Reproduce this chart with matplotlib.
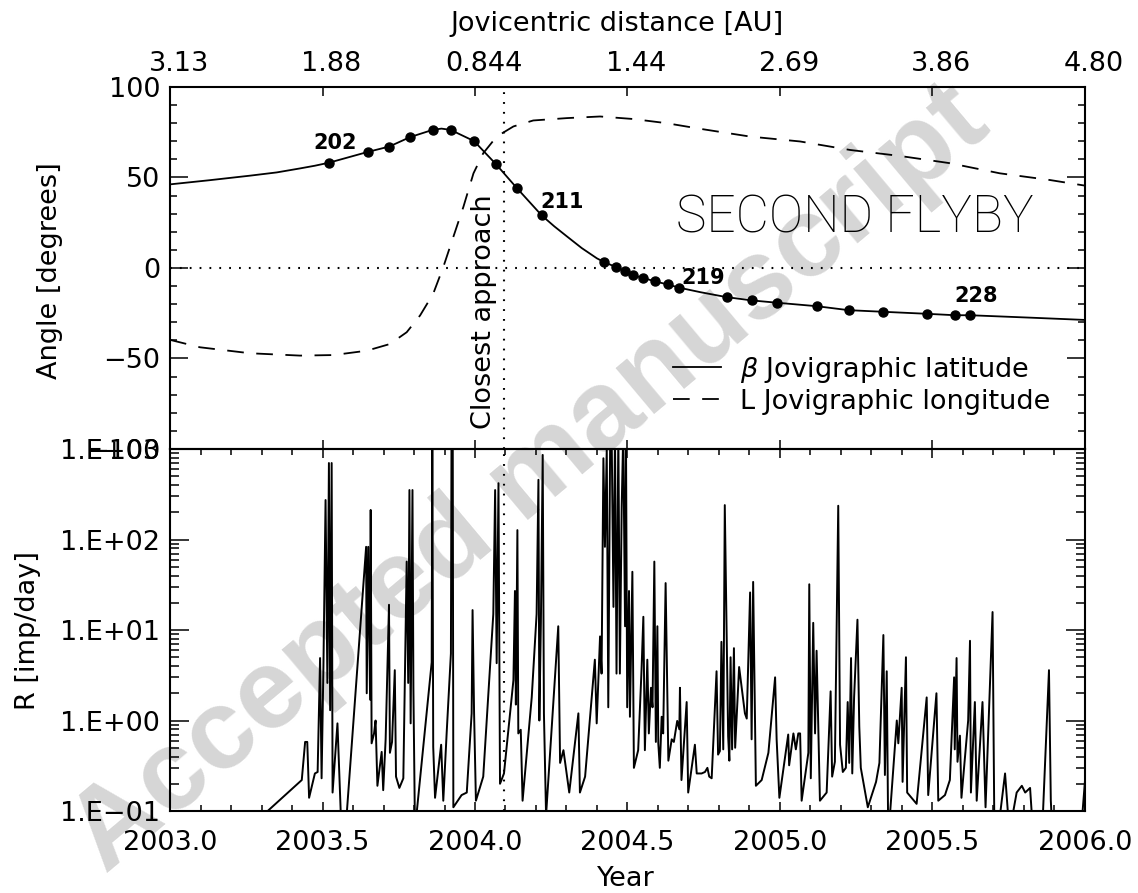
import matplotlib
matplotlib.use('Agg')
import matplotlib.pyplot as plt
import matplotlib.ticker as ticker
import matplotlib.transforms as mtransforms
from matplotlib.lines import Line2D

plt.rcParams['font.family'] = 'DejaVu Sans'
plt.rcParams['mathtext.fontset'] = 'dejavusans'
plt.rcParams['lines.scale_dashes'] = False

# orbit markers on the latitude curve (orbits 202..228)
orbit_year = [2003.522, 2003.648, 2003.719, 2003.787, 2003.861, 2003.920, 2003.997,
              2004.069, 2004.137, 2004.219, 2004.423, 2004.461, 2004.492, 2004.519,
              2004.550, 2004.590, 2004.632, 2004.670, 2004.825, 2004.907, 2004.991,
              2005.120, 2005.225, 2005.339, 2005.481, 2005.574, 2005.623]
orbit_lat = [58.2, 64.1, 67.1, 72.3, 76.3, 76.3, 70.1,
             57.3, 44.2, 29.0, 3.3, 0.6, -1.8, -4.1,
             -5.4, -7.4, -9.1, -10.9, -16.1, -17.9, -19.2,
             -21.1, -23.3, -24.2, -25.3, -26.1, -26.1]
orbit_labels = {'202': 0, '211': 9, '219': 17, '228': 26}
label_offset = {'202': (4, 14.5), '211': (14.5, 9.5), '219': (17, 7), '228': (4.5, 14)}

# extra points of the latitude curve between markers
lat_curve_year = [2003.000, 2003.130, 2003.262, 2003.350, 2003.426, 2003.475, 2003.890,
                  2004.260, 2004.301, 2004.350, 2004.400, 2004.740, 2005.830, 2006.000]
lat_curve_deg = [46.2, 48.5, 51.0, 52.8, 55.0, 56.5, 77.0,
                 23.0, 17.5, 11.0, 5.3, -13.4, -27.5, -28.7]

# longitude (dashed)
lon_year = [2003.000, 2003.098, 2003.262, 2003.426, 2003.536, 2003.645, 2003.721,
            2003.776, 2003.820, 2003.863, 2003.896, 2003.929, 2003.962, 2003.995,
            2004.027, 2004.071, 2004.126, 2004.191, 2004.301, 2004.410, 2004.519,
            2004.628, 2004.738, 2004.902, 2005.066, 2005.230, 2005.393, 2005.557,
            2005.721, 2005.885, 2006.000]
lon_deg = [-39.7, -43.8, -47.1, -48.4, -48.1, -45.7, -42.0,
           -35.5, -26.2, -14.2, 0.5, 17.2, 33.8, 52.3,
           63.4, 72.6, 78.2, 81.5, 82.8, 83.7, 82.3,
           80.0, 76.9, 72.6, 69.9, 65.2, 61.9, 57.9,
           52.3, 48.6, 45.5]

closest_year = 2004.095

year_ticks = [2003.0, 2003.5, 2004.0, 2004.5, 2005.0, 2005.5, 2006.0]
year_labels = ['2003.0', '2003.5', '2004.0', '2004.5', '2005.0', '2005.5', '2006.0']
dist_labels = ['3.13', '1.88', '0.844', '1.44', '2.69', '3.86', '4.80']
angle_ticks = [-100, -50, 0, 50, 100]
rate_ticks = [0.1, 1, 10, 100, 1000]
rate_labels = ['1.E\u221201', '1.E+00', '1.E+01', '1.E+02', '1.E+03']

# impact rate R [imp/day] vs year
impact_rate = [
    (2003.190, 0.04), (2003.432, 0.22), (2003.443, 0.58), (2003.450, 0.58),
    (2003.456, 0.14), (2003.475, 0.26), (2003.484, 0.27), (2003.492, 4.9),
    (2003.497, 0.23), (2003.503, 3.9), (2003.510, 273), (2003.516, 2.6),
    (2003.521, 700), (2003.525, 1.3), (2003.530, 700), (2003.533, 0.16),
    (2003.549, 0.93), (2003.562, 0.06), (2003.578, 0.08), (2003.643, 83),
    (2003.645, 2.0), (2003.650, 83), (2003.656, 1.7), (2003.658, 212),
    (2003.661, 0.56), (2003.669, 0.72), (2003.674, 1.0), (2003.680, 0.19),
    (2003.694, 0.45), (2003.699, 0.17), (2003.707, 0.62), (2003.718, 19),
    (2003.721, 0.44), (2003.728, 0.58), (2003.737, 3.6), (2003.741, 0.24),
    (2003.752, 0.18), (2003.765, 0.23), (2003.776, 57), (2003.781, 2.6),
    (2003.785, 352), (2003.789, 0.93), (2003.795, 352), (2003.798, 2.3),
    (2003.803, 0.07), (2003.808, 0.09), (2003.858, 4.4), (2003.860, 1500),
    (2003.863, 0.51), (2003.869, 0.14), (2003.889, 0.54), (2003.896, 0.13),
    (2003.907, 0.72), (2003.921, 5.5), (2003.923, 1500), (2003.927, 1500),
    (2003.929, 0.11), (2003.956, 0.15), (2003.973, 0.16), (2003.989, 1.2),
    (2003.992, 16.6), (2003.997, 1.2), (2004.003, 0.13), (2004.027, 0.24),
    (2004.060, 15), (2004.066, 352), (2004.071, 4.3), (2004.077, 419),
    (2004.082, 0.20), (2004.095, 0.26), (2004.126, 2.8), (2004.131, 27),
    (2004.134, 1.5), (2004.139, 127), (2004.142, 0.72), (2004.150, 0.79),
    (2004.156, 0.13), (2004.186, 1.8), (2004.202, 15), (2004.208, 457),
    (2004.211, 1.0), (2004.216, 12), (2004.222, 860), (2004.226, 1.2),
    (2004.233, 0.09), (2004.273, 11), (2004.279, 0.34), (2004.290, 0.47),
    (2004.309, 0.16), (2004.339, 1.2), (2004.344, 0.16), (2004.361, 0.24),
    (2004.393, 4.7), (2004.399, 0.93), (2004.410, 8.5), (2004.415, 3.3),
    (2004.421, 790), (2004.426, 83), (2004.432, 1000), (2004.437, 1.4),
    (2004.443, 990), (2004.448, 1500), (2004.454, 18), (2004.459, 1500),
    (2004.464, 3.3), (2004.470, 1500), (2004.475, 3.3), (2004.481, 230),
    (2004.486, 1500), (2004.492, 11), (2004.495, 1500), (2004.499, 1.4),
    (2004.505, 27), (2004.508, 1.1), (2004.512, 6.6), (2004.516, 44),
    (2004.521, 0.30), (2004.535, 0.47), (2004.546, 3.6), (2004.552, 14),
    (2004.557, 0.47), (2004.565, 4.7), (2004.570, 0.72), (2004.577, 2.3),
    (2004.582, 1.4), (2004.588, 57), (2004.593, 0.58), (2004.598, 11),
    (2004.601, 0.56), (2004.606, 0.30), (2004.612, 1.1), (2004.617, 0.72),
    (2004.625, 33), (2004.634, 0.36), (2004.645, 0.62), (2004.652, 0.58),
    (2004.663, 0.99), (2004.670, 0.8), (2004.672, 2.3), (2004.677, 0.22),
    (2004.694, 1.6), (2004.699, 0.16), (2004.721, 0.54), (2004.727, 0.26),
    (2004.743, 0.26), (2004.754, 0.27), (2004.762, 0.30), (2004.768, 0.24),
    (2004.776, 0.23), (2004.792, 3.5), (2004.797, 0.42), (2004.803, 0.46),
    (2004.808, 7.4), (2004.814, 0.48), (2004.819, 240), (2004.825, 9.5),
    (2004.830, 0.67), (2004.834, 0.36), (2004.838, 5.0), (2004.843, 0.48),
    (2004.849, 6.3), (2004.853, 0.50), (2004.866, 3.9), (2004.885, 1.2),
    (2004.891, 1.05), (2004.902, 26), (2004.907, 0.62), (2004.912, 34),
    (2004.921, 0.19), (2004.940, 0.22), (2004.962, 0.44), (2004.984, 3.0),
    (2004.989, 0.62), (2004.998, 0.14), (2005.027, 0.70), (2005.030, 0.32),
    (2005.044, 0.72), (2005.052, 0.48), (2005.060, 0.72), (2005.066, 0.72),
    (2005.071, 0.13), (2005.093, 0.44), (2005.096, 32), (2005.101, 0.23),
    (2005.109, 12), (2005.115, 0.72), (2005.120, 5.9), (2005.126, 0.72),
    (2005.131, 0.13), (2005.153, 0.16), (2005.166, 2.1), (2005.171, 0.24),
    (2005.180, 0.35), (2005.191, 236), (2005.197, 0.54), (2005.206, 0.27),
    (2005.216, 0.30), (2005.222, 1.6), (2005.227, 0.34), (2005.233, 4.9),
    (2005.237, 0.26), (2005.243, 1.8), (2005.254, 13), (2005.260, 0.86),
    (2005.265, 0.30), (2005.288, 0.11), (2005.315, 0.21), (2005.326, 0.34),
    (2005.339, 8.8), (2005.344, 0.25), (2005.350, 3.5), (2005.355, 0.05),
    (2005.383, 1.0), (2005.388, 0.56), (2005.399, 2.3), (2005.402, 0.21),
    (2005.413, 5.0), (2005.417, 0.16), (2005.448, 0.12), (2005.481, 1.8),
    (2005.486, 0.15), (2005.513, 2.0), (2005.519, 0.13), (2005.541, 0.15),
    (2005.557, 0.22), (2005.571, 3.0), (2005.573, 0.48), (2005.579, 4.9),
    (2005.582, 0.35), (2005.590, 0.68), (2005.595, 0.14), (2005.617, 1.0),
    (2005.623, 7.6), (2005.626, 0.16), (2005.639, 1.6), (2005.645, 0.13),
    (2005.664, 1.6), (2005.674, 0.11), (2005.697, 15.8), (2005.703, 0.06),
    (2005.715, 0.06), (2005.738, 0.26), (2005.749, 0.08), (2005.760, 0.08),
    (2005.776, 0.16), (2005.793, 0.19), (2005.804, 0.16), (2005.820, 0.18),
    (2005.828, 0.07), (2005.845, 0.07), (2005.862, 0.09), (2005.882, 3.6),
    (2005.888, 0.13), (2005.893, 0.06), (2005.975, 0.06), (2005.990, 0.08),
    (2006.005, 0.35),
]

FS = 19.5
dot_style = (0, (1.3, 5.8))

fig = plt.figure(figsize=(11.38, 8.93), dpi=100)
fig.patch.set_facecolor('white')

# watermark, drawn behind the axes
fig.text(0.466, 0.462, 'Accepted manuscript', rotation=40, fontsize=82,
         family='Liberation Sans', fontweight='bold', color='#d6d6d6',
         ha='center', va='center', rotation_mode='anchor', zorder=-1)

ax1 = fig.add_axes([0.1494, 0.4972, 0.8040, 0.4054])
ax2 = fig.add_axes([0.1494, 0.0918, 0.8040, 0.4054])
for ax in (ax1, ax2):
    ax.set_facecolor('none')
    for s in ax.spines.values():
        s.set_linewidth(1.5)
    ax.set_xlim(2003.0, 2006.0)
    ax.set_xticks(year_ticks)
    ax.axvline(closest_year, color='black', lw=1.5, ls=dot_style)

# ---- upper panel: angles
pts = sorted(zip(orbit_year + lat_curve_year, orbit_lat + lat_curve_deg))
lat_year = [p[0] for p in pts]
lat_deg = [p[1] for p in pts]
ax1.plot(lat_year, lat_deg, color='black', lw=1.3)
ax1.plot(orbit_year, orbit_lat, 'o', color='black', ms=6.5)
ax1.plot(lon_year, lon_deg, color='black', lw=1.3, dashes=(12, 9))
ax1.axhline(0, color='black', lw=1.5, ls=dot_style)

for lab, i in orbit_labels.items():
    ax1.annotate(lab, (orbit_year[i], orbit_lat[i]), xytext=label_offset[lab],
                 textcoords='offset points', ha='center', va='center',
                 fontsize=15, fontweight='bold')

ax1.annotate('Closest approach', (closest_year, -24), xytext=(-5, 0),
             textcoords='offset points', rotation=90, ha='right', va='center',
             fontsize=FS)
ax1.text(0.749, 0.599, 'SECOND FLYBY', transform=ax1.transAxes,
         ha='center', va='baseline', fontsize=37, family='Roboto',
         fontweight='light')

handles = [Line2D([], [], color='black', lw=1.3),
           Line2D([], [], color='black', lw=1.3, dashes=(12, 9))]
ax1.legend(handles, [r'$\beta$ Jovigraphic latitude', 'L Jovigraphic longitude'],
           loc='lower right', bbox_to_anchor=(0.962, 0.095), frameon=False,
           fontsize=FS, handlelength=1.75, handletextpad=0.7, labelspacing=0.15,
           borderpad=0, borderaxespad=0)

ax1.set_ylim(-100, 100)
ax1.set_yticks(angle_ticks)
ax1.yaxis.set_minor_locator(ticker.MultipleLocator(10))
ax1.set_xticklabels(dist_labels)
ax1.tick_params(axis='y', which='major', direction='in', length=13, width=1.1,
                left=True, right=True, labelsize=FS, pad=7)
ax1.tick_params(axis='y', which='minor', direction='in', length=5, width=1.1,
                left=True, right=True)
ax1.tick_params(axis='x', which='major', direction='in', length=6.5, width=1.1,
                top=True, bottom=True, labeltop=True, labelbottom=False,
                labelsize=FS, pad=7.5)
ax1.tick_params(axis='x', which='minor', bottom=False, top=False)
shift = mtransforms.ScaledTranslation(9 / 100, 0, fig.dpi_scale_trans)
for lbl in ax1.xaxis.get_ticklabels():
    lbl.set_transform(lbl.get_transform() + shift)

# ---- lower panel: impact rate
rate_year = [p[0] for p in impact_rate]
rate_value = [p[1] for p in impact_rate]
ax2.plot(rate_year, rate_value, color='black', lw=1.4)
ax2.set_yscale('log')
ax2.set_ylim(0.1, 1000)
ax2.yaxis.set_major_locator(ticker.FixedLocator(rate_ticks))
ax2.yaxis.set_major_formatter(ticker.FixedFormatter(rate_labels))
ax2.yaxis.set_minor_locator(ticker.LogLocator(base=10, subs=range(2, 10), numticks=20))
ax2.yaxis.set_minor_formatter(ticker.NullFormatter())
ax2.set_xticklabels(year_labels)
ax2.xaxis.set_minor_locator(ticker.MultipleLocator(0.1))
ax2.tick_params(axis='y', which='major', direction='in', length=13.5, width=1.1,
                left=True, right=True, labelsize=FS, pad=7)
ax2.tick_params(axis='y', which='minor', direction='in', length=6.5, width=1.1,
                left=True, right=True)
ax2.tick_params(axis='x', which='major', direction='in', length=6.5, width=1.1,
                top=True, bottom=True, labelsize=FS, pad=14)
ax2.tick_params(axis='x', which='minor', direction='in', length=4.5, width=1.1,
                top=True, bottom=True)

# axis titles
fig.text(617.5 / 1138, 1 - 24 / 893, 'Jovicentric distance [AU]', ha='center',
         va='center', fontsize=FS)
fig.text(626 / 1138, 1 - 879 / 893, 'Year', ha='center', va='center', fontsize=FS)
fig.text(50 / 1138, 1 - 271 / 893, 'Angle [degrees]', rotation=90, ha='center',
         va='center', fontsize=FS)
fig.text(28 / 1138, 1 - 630 / 893, 'R [imp/day]', rotation=90, ha='center',
         va='center', fontsize=FS)

fig.savefig('out.png', dpi=100)
